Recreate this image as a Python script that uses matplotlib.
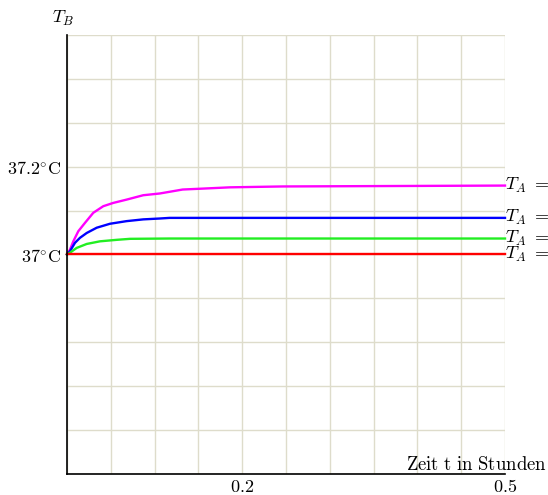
import matplotlib.pyplot as plt

plt.rcParams['mathtext.fontset'] = 'cm'
plt.rcParams['font.family'] = 'serif'
plt.rcParams['font.serif'] = ['DejaVu Serif']

# Körpertemperatur T_B über der Zeit für vier Umgebungstemperaturen T_A
t_magenta = [0.0, 0.0034, 0.0072, 0.0129, 0.0205, 0.030, 0.0414, 0.0528,
             0.068, 0.087, 0.106, 0.132, 0.154, 0.186, 0.246, 0.5]
T_magenta = [37.0, 37.011, 37.030, 37.053, 37.072, 37.095, 37.110, 37.1175,
             37.125, 37.135, 37.139, 37.148, 37.150, 37.153, 37.155, 37.157]

t_blue = [0.0, 0.0034, 0.0091, 0.0148, 0.0225, 0.0339, 0.049, 0.068,
          0.087, 0.106, 0.117, 0.5]
T_blue = [37.0, 37.0075, 37.0266, 37.038, 37.049, 37.061, 37.070, 37.076,
          37.080, 37.082, 37.0834, 37.0834]

t_green = [0.0, 0.0034, 0.011, 0.0225, 0.0376, 0.0567, 0.072, 0.117, 0.5]
T_green = [37.0, 37.004, 37.015, 37.024, 37.030, 37.0334, 37.0357, 37.0364,
           37.0364]

t_red = [0.0, 0.5]
T_red = [37.0, 37.0]

x_grid = [0.05 * i for i in range(11)]
y_grid = [36.5 + 0.1 * i for i in range(11)]
x_labels = {0.2: '$0.2$', 0.5: '$0.5$'}
y_labels = {37.2: r'$37.2^{\circ}\mathrm{C}$', 37.0: r'$37^{\circ}\mathrm{C}$'}

fig = plt.figure(figsize=(5.48, 4.95), dpi=100)
ax = fig.add_axes([67 / 548, 21 / 495, 438 / 548, 439 / 495])
ax.set_xlim(0, 0.5)
ax.set_ylim(36.5, 37.5)

for x in x_grid:
    ax.axvline(x, color='#dedccb', lw=1.0, zorder=0)
for y in y_grid:
    ax.axhline(y, color='#dedccb', lw=1.0, zorder=0)

ax.plot(t_magenta, T_magenta, color='#ff00ff', lw=1.7, clip_on=False)
ax.plot(t_blue, T_blue, color='#0000ff', lw=1.7, clip_on=False)
ax.plot(t_green, T_green, color='#22ee22', lw=1.7, clip_on=False)
ax.plot(t_red, T_red, color='#ff0000', lw=1.7, clip_on=False)

for T in [T_magenta[-1], T_blue[-1], T_green[-1], T_red[-1]]:
    ax.text(0.5, T, r'$T_A\ =$', fontsize=13, ha='left', va='center',
            clip_on=False)

ax.set_xticks(list(x_labels.keys()))
ax.set_xticklabels(list(x_labels.values()), fontsize=13)
ax.set_yticks(list(y_labels.keys()))
ax.set_yticklabels(list(y_labels.values()), fontsize=13)
ax.tick_params(axis='x', length=0, pad=3)
ax.tick_params(axis='y', length=0, pad=4)

for side in ['top', 'right']:
    ax.spines[side].set_visible(False)
for side in ['left', 'bottom']:
    ax.spines[side].set_color('black')
    ax.spines[side].set_linewidth(1.2)

fig.text(52 / 548, 1 - 18 / 495, r'$T_B$', fontsize=13, ha='left', va='center')
fig.text(547 / 548, 1 - 465 / 495, r'$\mathrm{Zeit\ t\ in\ Stunden}$',
         fontsize=13.5, ha='right', va='center')

fig.savefig('out.png', dpi=100)
